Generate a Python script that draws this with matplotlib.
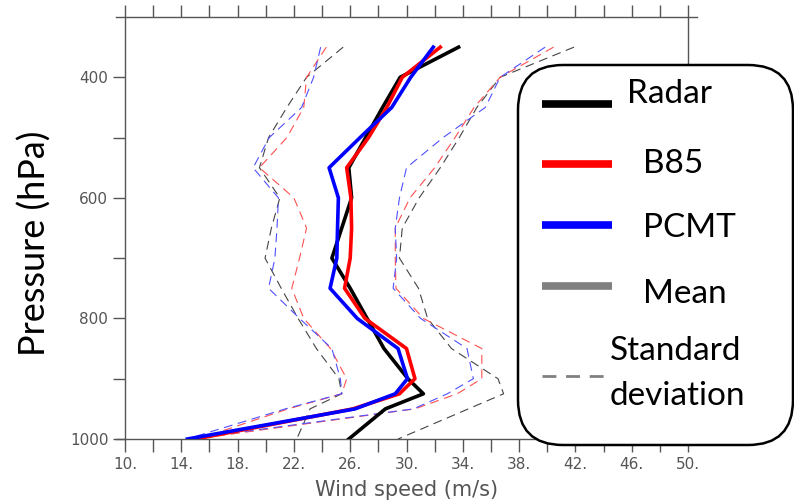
import numpy as np
import matplotlib
matplotlib.use("Agg")
import matplotlib.pyplot as plt
from matplotlib.patches import FancyBboxPatch
from matplotlib.lines import Line2D

# pressure levels (hPa)
pressure = [350, 400, 450, 500, 550, 600, 650, 700, 750, 800, 850, 900, 925, 950, 1000]

# mean wind speed (m/s)
radar = [33.7, 29.55, 28.3, 27.1, 25.9, 26.1, 25.4, 24.7, 26.0, 27.2, 28.4, 30.1, 31.2, 28.5, 25.9]
b85 = [32.4, 29.7, 28.6, 27.3, 25.75, 26.05, 26.1, 26.0, 25.6, 27.05, 30.0, 30.6, 29.5, 26.2, 15.0]
pcmt = [31.9, 30.3, 28.95, 26.7, 24.5, 25.16, 25.1, 25.05, 24.57, 26.5, 29.4, 30.07, 29.2, 26.35, 14.43]

# mean - std
radar_lo = [25.5, 22.9, 21.5, 20.2, 19.55, 21.0, 20.4, 19.95, 21.1, 22.3, 23.6, 25.2, 25.4, 23.15, 22.2]
b85_lo = [24.3, 22.9, 22.7, 21.5, 19.55, 22.0, 22.9, 22.4, 21.85, 22.7, 24.6, 25.75, 25.4, 21.6, 15.2]
pcmt_lo = [23.9, 23.4, 22.55, 20.25, 19.1, 20.9, 20.8, 20.65, 20.2, 22.4, 24.7, 25.3, 25.4, 21.4, 14.4]

# mean + std
radar_hi = [41.9, 36.65, 35.0, 33.75, 32.4, 30.9, 29.7, 29.5, 30.85, 31.5, 33.2, 36.5, 36.9, 34.4, 29.4]
b85_hi = [40.45, 36.65, 34.8, 33.45, 32.0, 30.25, 29.2, 29.2, 29.25, 31.2, 35.35, 35.35, 33.6, 30.6, 15.0]
pcmt_hi = [39.85, 36.65, 35.6, 32.6, 30.0, 29.5, 29.2, 29.3, 29.05, 31.0, 34.3, 34.75, 32.9, 30.5, 14.5]

xticks = np.arange(10, 51, 4)
xticklabels = ["%d." % v for v in xticks]
yticks = [400, 600, 800, 1000]

W, H = 7.94, 5.01
fig = plt.figure(figsize=(W, H), dpi=100)
ax = fig.add_axes([116 / 794, 1 - 439 / 501, (697 - 116) / 794, (439 - 17) / 501])

lw = 2.6
ax.plot(radar, pressure, color="black", lw=lw, zorder=4)
ax.plot(b85, pressure, color="red", lw=lw, zorder=4)
ax.plot(pcmt, pressure, color="blue", lw=lw, zorder=5)

dash = (0, (8, 5))
for lo, hi, c in [(radar_lo, radar_hi, "#444444"), (b85_lo, b85_hi, "#ff5050"),
                  (pcmt_lo, pcmt_hi, "#5050ff")]:
    ax.plot(lo, pressure, color=c, lw=0.8, ls=dash, zorder=3)
    ax.plot(hi, pressure, color=c, lw=0.8, ls=dash, zorder=3)

ax.set_xlim(10 - 9 / 14.07, 50 + 9 / 14.07)
ax.set_ylim(1000, 300)
ax.spines["left"].set_position(("data", 10))
ax.spines["right"].set_position(("data", 50))
for s in ax.spines.values():
    s.set_color("#555555")
    s.set_linewidth(1.0)

ax.set_xticks(xticks)
ax.set_xticklabels(xticklabels)
ax.set_xticks(np.arange(12, 51, 4), minor=True)
ax.set_yticks(yticks)
ax.set_yticks([500, 700, 900], minor=True)
ax.tick_params(axis="both", which="both", direction="out", length=9, width=1,
               color="#555555", labelcolor="#555555", labelsize=11)
ax.tick_params(axis="x", which="both", top=True, labeltop=False, pad=4)
ax.tick_params(axis="y", which="both", right=False, pad=3)

ax.set_xlabel("Wind speed (m/s)", color="#555555", fontsize=15, labelpad=6)
fig.text(35 / 794, 1 - 243 / 501, "Pressure (hPa)", rotation=90, ha="center",
         va="center", fontsize=26, family="Lato")

# legend box drawn in pixel-like inch coords
tr = fig.dpi_scale_trans
box = FancyBboxPatch((5.18, (501 - 445) / 100), 2.75, 3.80,
                     boxstyle="round,pad=0,rounding_size=0.45",
                     transform=tr, facecolor="white", edgecolor="black",
                     lw=1.8, zorder=10)
fig.add_artist(box)

fs = 24
rows = [("Radar", "black", 104, 627, 94),
        ("B85", "red", 164, 643, 164),
        ("PCMT", "blue", 225, 643, 228),
        ("Mean", "#808080", 286, 643, 294)]
for name, c, ly, tx, ty in rows:
    fig.add_artist(Line2D([5.42, 6.12], [(501 - ly) / 100] * 2, transform=tr,
                          color=c, lw=5.5, solid_capstyle="butt", zorder=11))
    fig.text(tx / 100, (501 - ty) / 100, name, transform=tr, ha="left",
             va="center", fontsize=fs, family="Lato", zorder=12)

fig.add_artist(Line2D([5.42, 6.10], [(501 - 376) / 100] * 2, transform=tr,
                      color="#808080", lw=2, ls=(0, (5, 3.5)), zorder=11))
fig.text(6.10, (501 - 351) / 100, "Standard", transform=tr, ha="left",
         va="center", fontsize=fs, family="Lato", zorder=12)
fig.text(6.10, (501 - 396) / 100, "deviation", transform=tr, ha="left",
         va="center", fontsize=fs, family="Lato", zorder=12)

fig.savefig("out.png", dpi=100)
